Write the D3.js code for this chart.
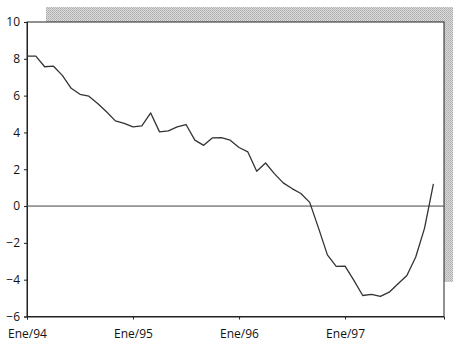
<!DOCTYPE html>
<html><head><meta charset="utf-8">
<script src="https://cdn.jsdelivr.net/npm/d3@7"></script>
<style>html,body{margin:0;padding:0;background:#fff;}svg{display:block;}</style>
</head><body>
<svg id="c" width="454" height="341"></svg>
<script>
// Monthly values, Ene/94 .. Nov/97
const values = [8.15, 8.15, 7.57, 7.6, 7.1, 6.4, 6.07, 5.97, 5.57, 5.12,
  4.63, 4.49, 4.3, 4.36, 5.06, 4.03, 4.09, 4.3, 4.43, 3.58,
  3.3, 3.71, 3.72, 3.58, 3.18, 2.94, 1.89, 2.34, 1.76, 1.26,
  0.95, 0.68, 0.2, -1.2, -2.65, -3.28, -3.26, -4.04, -4.86, -4.8,
  -4.91, -4.68, -4.22, -3.77, -2.77, -1.2, 1.2];
const xTickMonths = [0, 12, 24, 36];
const xTickLabels = ["Ene/94", "Ene/95", "Ene/96", "Ene/97"];
const yTicks = [-6, -4, -2, 0, 2, 4, 6, 8, 10];

const svg = d3.select("#c");
const L = 27, R = 444, T = 22, B = 316.5;
const x = d3.scaleLinear().domain([0, 47.2]).range([L, R]);
const y = d3.scaleLinear().domain([-6, 10]).range([B, T]);

// shadow pattern
const defs = svg.append("defs");
const pat = defs.append("pattern").attr("id", "dots").attr("width", 2).attr("height", 2)
  .attr("patternUnits", "userSpaceOnUse");
pat.append("rect").attr("width", 2).attr("height", 2).attr("fill", "#dcdcdc");
pat.append("rect").attr("width", 1).attr("height", 1).attr("fill", "#ababab");
pat.append("rect").attr("x", 1).attr("y", 1).attr("width", 1).attr("height", 1).attr("fill", "#b8b8b8");

svg.append("rect").attr("x", 46).attr("y", 7).attr("width", 453 - 46).attr("height", 282 - 7)
  .attr("fill", "url(#dots)");
svg.append("rect").attr("x", L).attr("y", T).attr("width", R - L).attr("height", B - T)
  .attr("fill", "#fff").attr("stroke", "#222").attr("stroke-width", 1);

const font = "'Open Sans', Lato, sans-serif";

// y axis
const yAxis = d3.axisLeft(y).tickValues(yTicks).tickSize(3).tickPadding(4).tickFormat(d3.format("d"));
const gy = svg.append("g").attr("transform", `translate(${L},0)`).call(yAxis);
gy.select(".domain").attr("stroke", "#222");
gy.selectAll(".tick line").attr("stroke", "#222");
gy.selectAll("text").attr("font-family", font).attr("font-size", 12).attr("fill", "#111");

// x axis
const xAxis = d3.axisBottom(x).tickValues(xTickMonths).tickSize(3).tickPadding(10)
  .tickFormat((d, i) => xTickLabels[i]);
const gx = svg.append("g").attr("transform", `translate(0,${B})`).call(xAxis);
gx.select(".domain").attr("stroke", "#222");
gx.selectAll(".tick line").attr("stroke", "#222");
gx.selectAll("text").attr("font-family", font).attr("font-size", 12).attr("fill", "#111");

// zero line
svg.append("line").attr("x1", L).attr("x2", R).attr("y1", y(0)).attr("y2", y(0))
  .attr("stroke", "#444").attr("stroke-width", 1);

// series
const line = d3.line().x((d, i) => x(i)).y(d => y(d));
svg.append("path").datum(values).attr("d", line).attr("fill", "none")
  .attr("stroke", "#333").attr("stroke-width", 1.3).attr("stroke-linejoin", "round");
</script>
</body></html>
